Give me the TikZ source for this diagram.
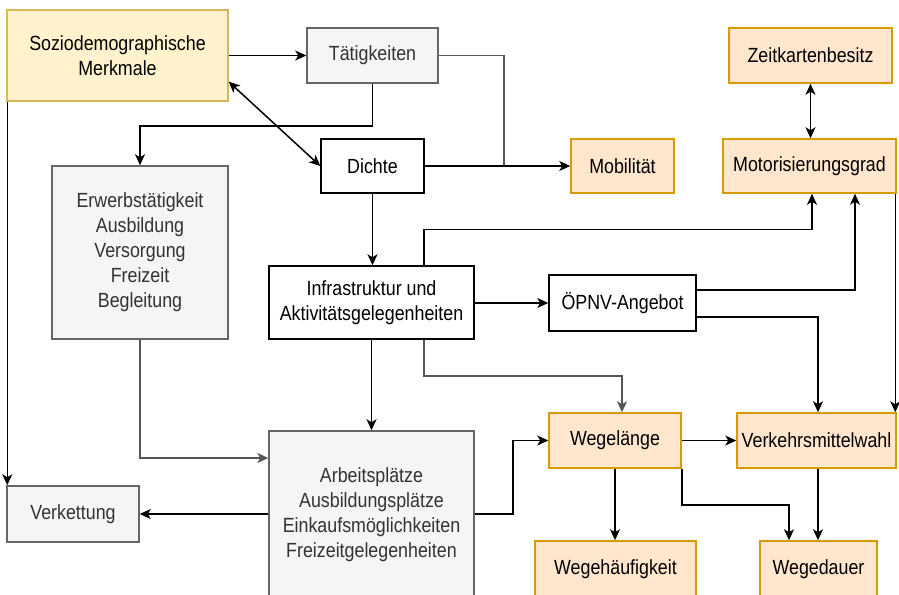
\documentclass[tikz,border=0pt]{standalone}
\usepackage{fontspec}
\setmainfont[FakeStretch=0.87]{Liberation Sans}
\usetikzlibrary{arrows.meta,calc}
\definecolor{yfill}{HTML}{FFF2CC}
\definecolor{ydraw}{HTML}{D6B656}
\definecolor{ofill}{HTML}{FFE6CC}
\definecolor{odraw}{HTML}{D79B00}
\definecolor{gfill}{HTML}{F5F5F5}
\definecolor{gdraw}{HTML}{666666}
\definecolor{gtext}{HTML}{333333}
\definecolor{gline}{HTML}{555555}
\tikzset{
  box/.style={rectangle, draw, line width=1.5pt, inner sep=0pt, align=center,
    font=\fontsize{20.5}{25}\selectfont},
  whitebox/.style={box, draw=black, fill=white},
  graybox/.style={box, draw=gdraw, fill=gfill, text=gtext},
  orangebox/.style={box, draw=odraw, fill=ofill},
  yellowbox/.style={box, draw=ydraw, fill=yfill},
  ln/.style={line width=1.5pt},
  arr/.style={line width=1.5pt, -{Stealth[length=11pt,width=10pt,inset=3pt]}},
  barr/.style={line width=1.5pt, {Stealth[length=11pt,width=10pt,inset=3pt]}-{Stealth[length=11pt,width=10pt,inset=3pt]}},
  grayline/.style={draw=gline}
}
\begin{document}
\begin{tikzpicture}[x=1pt,y=-1pt]
\useasboundingbox (0,0) rectangle (899,594);
\clip (0,0) rectangle (899,594);
\fill[white] (0,0) rectangle (899,594);

% nodes
\node[yellowbox, minimum width=221pt, minimum height=91pt] (sozio) at (117.5,55.5) {Soziodemographische\\Merkmale};
\node[graybox, minimum width=131pt, minimum height=55pt] (taet) at (372.5,55.5) {Tätigkeiten};
\node[whitebox, minimum width=103pt, minimum height=54pt] (dichte) at (372.5,166) {Dichte};
\node[orangebox, minimum width=103pt, minimum height=54pt] (mob) at (622.5,166) {Mobilität};
\node[orangebox, minimum width=163pt, minimum height=55pt] (zeit) at (810.5,55.5) {Zeitkartenbesitz};
\node[orangebox, minimum width=173pt, minimum height=54pt] (motor) at (809.5,166) {Motorisierungsgrad};
\node[graybox, minimum width=176pt, minimum height=173pt] (erw) at (140,252.5) {Erwerbstätigkeit\\Ausbildung\\Versorgung\\Freizeit\\Begleitung};
\node[whitebox, minimum width=205pt, minimum height=73pt] (infra) at (371.5,302.5) {Infrastruktur und\\Aktivitätsgelegenheiten};
\node[whitebox, minimum width=147pt, minimum height=56pt] (oepnv) at (622.5,303) {ÖPNV-Angebot};
\node[graybox, minimum width=205pt, minimum height=167pt] (arb) at (371.5,514.5) {Arbeitsplätze\\Ausbildungsplätze\\Einkaufsmöglichkeiten\\Freizeitgelegenheiten};
\node[graybox, minimum width=132pt, minimum height=56pt] (verk) at (73,514) {Verkettung};
\node[orangebox, minimum width=132pt, minimum height=55pt] (wegl) at (615,440.5) {Wegelänge};
\node[orangebox, minimum width=159pt, minimum height=55pt] (vmw) at (816.5,440.5) {Verkehrsmittelwahl};
\node[orangebox, minimum width=161pt, minimum height=56pt] (wegh) at (615.5,569) {Wegehäufigkeit};
\node[orangebox, minimum width=117pt, minimum height=56pt] (wegd) at (818.5,569) {Wegedauer};

\coordinate (j1) at (504,166);

% connectors
\draw[arr] (sozio.east) -- (taet.west);
\draw[ln, grayline] (taet.east) -| (j1);
\draw[arr] (dichte.east) -- (mob.west);
\draw[arr] (taet.south) -- ++(0,42) -| (erw.north);
\draw[barr] ([yshift=20pt]sozio.south east) -- (dichte.west);
\draw[arr] (dichte.south) -- (dichte.south |- infra.north);
\draw[arr] ([xshift=52.5pt]infra.north) -- ++(0,-36) -| ([xshift=2.5pt]motor.south);
\draw[arr] (infra.east |- oepnv.west) -- (oepnv.west);
\draw[arr] ([yshift=13pt]oepnv.east) -| ([xshift=45.5pt]motor.south);
\draw[arr] ([yshift=-14pt]oepnv.east) -| ([xshift=1.5pt]vmw.north);
\draw[barr] (zeit.south) -- (zeit.south |- motor.north);
\draw[arr] ([xshift=-1.5pt]motor.south east) -- ([xshift=-1.5pt]vmw.north east);
\draw[arr] ([xshift=1pt]sozio.south west) -- ([xshift=1pt]verk.north west);
\draw[arr, grayline] (erw.south) |- ([yshift=56.5pt]arb.west);
\draw[arr] (infra.south) -- (arb.north);
\draw[arr] (arb.west |- verk.east) -- (verk.east);
\draw[arr] (arb.east |- verk.east) -- ++(38,0) |- (wegl.west);
\draw[arr] (wegl.east) -- (vmw.west);
\draw[arr] (wegl.south) -- (wegl.south |- wegh.north);
\draw[arr] (wegl.south east) -- ++(0,36) -| ([xshift=-29.5pt]wegd.north);
\draw[arr] ([xshift=1.5pt]vmw.south) -- ([xshift=1.5pt]vmw.south |- wegd.north);
\draw[arr, grayline] ([xshift=52.5pt]infra.south) -- ++(0,36) -| ([xshift=7pt]wegl.north);
\end{tikzpicture}
\end{document}
